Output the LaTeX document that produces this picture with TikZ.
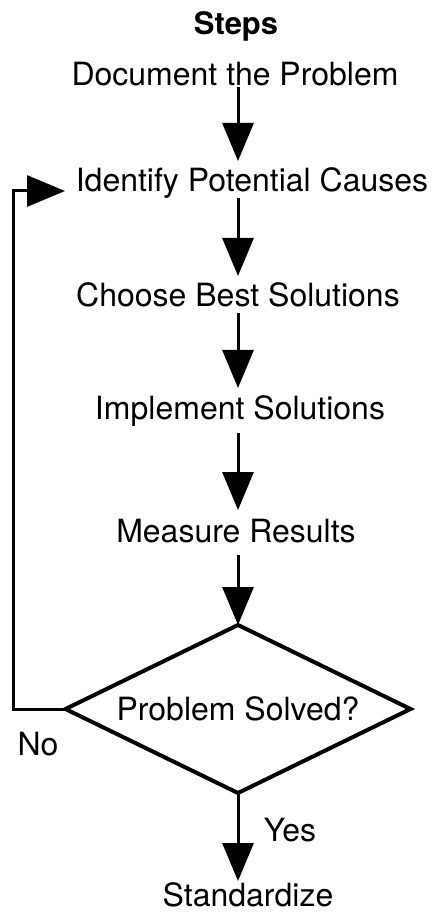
\documentclass[tikz,border=0pt]{standalone}
\usepackage{fontspec}
\setmainfont{TeX Gyre Heros}
\usetikzlibrary{arrows.meta,shapes.geometric}
\begin{document}
\begin{tikzpicture}[x=0.5pt,y=-0.5pt,
  lbl/.style={anchor=base,inner sep=0pt,font=\fontsize{16}{19}\selectfont},
  arr/.style={line width=1.5pt,-{Triangle[length=19pt,width=15.5pt]}},
  ln/.style={line width=1.5pt},
  decision/.style={diamond,draw,line width=2pt,inner sep=0pt,outer sep=0pt,
    aspect=2.05,minimum width=172.5pt,minimum height=84pt,
    font=\fontsize{16}{19}\selectfont}]
\useasboundingbox (0,0) rectangle (436,913);
% texts
\node[lbl,font=\bfseries\fontsize{15.5}{18}\selectfont] (steps) at (236,35) {Steps};
\node[lbl] (doc) at (235,86) {Document the Problem};
\node[lbl] (ident) at (252,192) {Identify Potential Causes};
\node[lbl] (choose) at (238,307) {Choose Best Solutions};
\node[lbl] (impl) at (240,420) {Implement Solutions};
\node[lbl] (meas) at (236,542) {Measure Results};
\node[decision] (dec) at (238,709) {Problem Solved?};
\node[lbl] (no) at (38,755) {No};
\node[lbl] (yes) at (290,841) {Yes};
\node[lbl] (std) at (248,906) {Standardize};
% connector end points
\coordinate (s1) at (238,87);  \coordinate (e1) at (238,161);
\coordinate (s2) at (238,198); \coordinate (e2) at (238,276);
\coordinate (s3) at (238,313); \coordinate (e3) at (238,388);
\coordinate (s4) at (238,433); \coordinate (e4) at (238,510);
\coordinate (s5) at (238,555);
\coordinate (e6) at (238,881);
\coordinate (fb) at (13,709);
\coordinate (fbtip) at (65,191);
% connectors
\draw[arr] (s1) -- (e1);
\draw[arr] (s2) -- (e2);
\draw[arr] (s3) -- (e3);
\draw[arr] (s4) -- (e4);
\draw[arr] (s5) -- (dec.north);
\draw[arr] (dec.south) -- (e6);
\draw[arr] (dec.west) -- (fb) |- (fbtip);
\end{tikzpicture}
\end{document}
